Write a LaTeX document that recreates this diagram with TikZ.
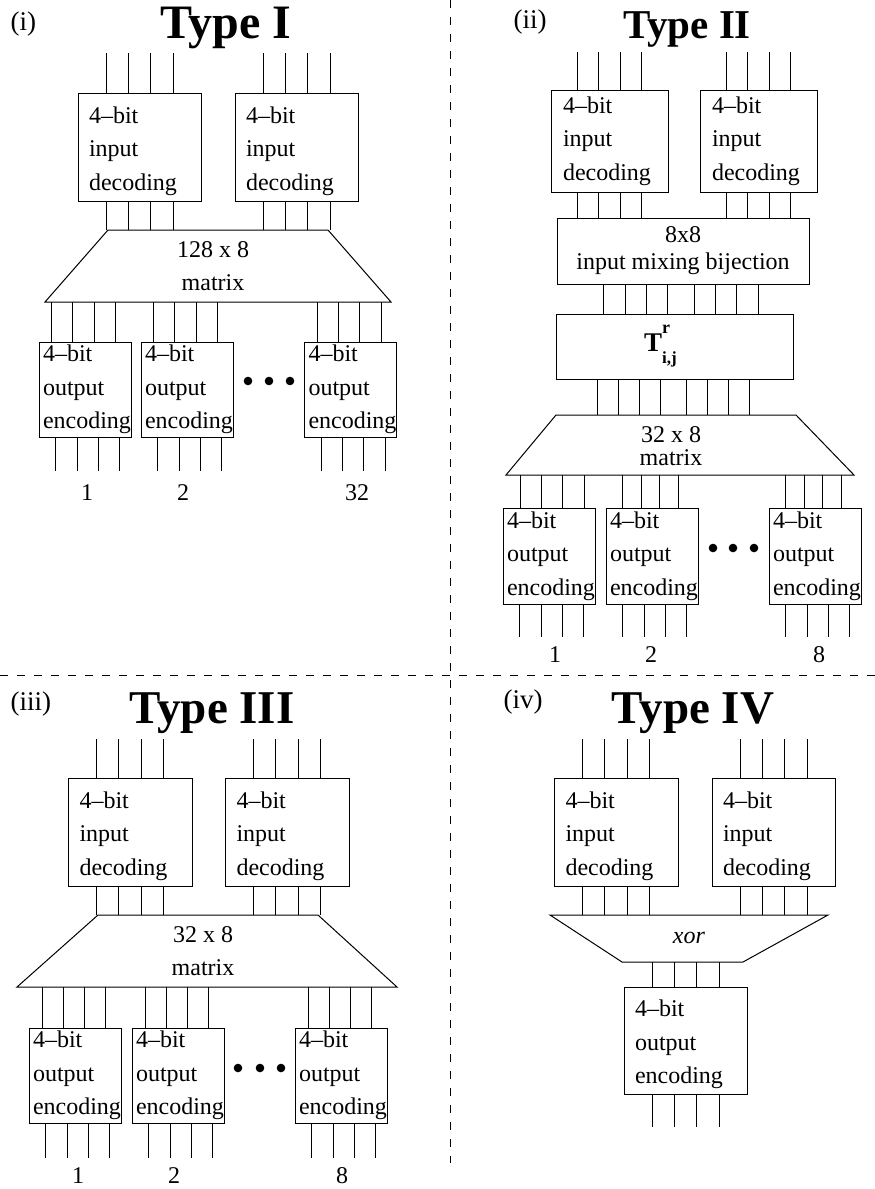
\documentclass[tikz,border=0pt]{standalone}
\usepackage{fontspec}
\setmainfont{Liberation Serif}
\usetikzlibrary{positioning}

\tikzset{
  wire/.style={line width=0.9pt},
  decbox/.style={draw, line width=1pt, minimum width=123pt, minimum height=108pt,
    inner xsep=11pt, inner ysep=0pt, text width=101pt, align=left,
    text height=16pt, text depth=64pt},
  decsmall/.style={draw, line width=1pt, minimum width=117pt, minimum height=102pt,
    inner xsep=12pt, inner ysep=0pt, text width=93pt, align=left},
  encbox/.style={draw, line width=1pt, minimum width=92pt, minimum height=95pt,
    inner xsep=4pt, inner ysep=0pt, text width=84pt, align=left},
  trapline/.style={draw, line width=1pt, line join=miter},
  traptext/.style={inner sep=0pt, align=center},
  title/.style={anchor=base, font=\fontsize{#1}{#1}\selectfont\bfseries},
  tag/.style={anchor=base west, font=\fontsize{27}{27}\selectfont},
  divider/.style={line width=0.9pt, dash pattern=on 8pt off 9pt}
}

\begin{document}
\begin{tikzpicture}[x=1pt, y=-1pt, font=\fontsize{24}{33.5}\selectfont]
  \useasboundingbox (0,0) rectangle (875,1189);

  % dividers between the four panels
  \draw[divider] (450,0) -- (450,1163);
  \draw[divider] (0,675) -- (875,675);

  % ---------------- (i) Type I ----------------
  \node[tag] (tagI) at (7,30) {(i)};
  \node[title=48] (typeI) at (226,38) {Type I};

  \coordinate (topI) at (0,53);
  \coordinate (endI) at (0,471);

  \node[decbox] (inIa) at (139.5,147) {4--bit\\input\\decoding};
  \node[decbox] (inIb) at (296.5,147) {4--bit\\input\\decoding};

  % the 128 x 8 matrix
  \coordinate (matI-tl) at (108,230);
  \coordinate (matI-tr) at (328,230);
  \coordinate (matI-br) at (391,302);
  \coordinate (matI-bl) at (45,302);
  \draw[trapline] (matI-tl) -- (matI-tr) -- (matI-br) -- (matI-bl) -- cycle;
  \node[traptext] (matI) at (213,266) {128 x 8\\matrix};

  \node[encbox] (outIa) at (85,389.5) {4--bit\\output\\encoding};
  \node[encbox] (outIb) at (187,389.5) {4--bit\\output\\encoding};
  \node[encbox] (outIc) at (350.5,389.5) {4--bit\\output\\encoding};
  \foreach \x in {248,269,290}
    \fill (\x,381) circle[radius=4.3pt];

  \foreach \b in {inIa,inIb}
    \foreach \d in {-33.5,-11.2,11.2,33.5} {
      \draw[wire] ([xshift=\d pt]\b.north) -- ([xshift=\d pt]\b.north |- topI);
      \draw[wire] ([xshift=\d pt]\b.south) -- ([xshift=\d pt]\b.south |- matI-tl);
    }
  \foreach \b in {outIa,outIb,outIc} {
    \foreach \d in {-33.5,-12.5,9,30.5}
      \draw[wire] ([xshift=\d pt]\b.north) -- ([xshift=\d pt]\b.north |- matI-bl);
    \foreach \d in {-29.5,-8,13,34.5}
      \draw[wire] ([xshift=\d pt]\b.south) -- ([xshift=\d pt]\b.south |- endI);
  }

  \node[anchor=base] (nIa) at (87,500) {1};
  \node[anchor=base] (nIb) at (183,500) {2};
  \node[anchor=base] (nIc) at (357,500) {32};

  % ---------------- (ii) Type II ----------------
  \node[tag] (tagII) at (510,28) {(ii)};
  \node[title=41] (typeII) at (687,38) {Type II};

  \coordinate (topII) at (0,52);
  \coordinate (endII) at (0,637);

  \node[decsmall] (inIIa) at (609.5,141) {4--bit\\input\\decoding};
  \node[decsmall] (inIIb) at (758.5,141) {4--bit\\input\\decoding};
  \node[draw, line width=1pt, minimum width=252pt, minimum height=66pt, inner sep=0pt,
    align=center, font=\fontsize{24}{27}\selectfont]
    (mixII) at (683,251) {8x8\\input mixing bijection};
  \node[draw, line width=1pt, minimum width=237pt, minimum height=65pt, inner sep=0pt]
    (tII) at (674.5,346.5)
    {{\fontsize{27}{27}\selectfont\bfseries T\rlap{\raisebox{18pt}{\fontsize{18}{18}\selectfont r}}%
      \raisebox{-12pt}{\fontsize{17}{17}\selectfont i,j}}\hspace{28pt}\mbox{}};

  % the 32 x 8 matrix
  \coordinate (matII-tl) at (556,415);
  \coordinate (matII-tr) at (796,415);
  \coordinate (matII-br) at (854,475);
  \coordinate (matII-bl) at (506,475);
  \draw[trapline] (matII-tl) -- (matII-tr) -- (matII-br) -- (matII-bl) -- cycle;
  \node[traptext, font=\fontsize{24}{23}\selectfont] (matII) at (671,446.5) {32 x 8\\matrix};

  \node[encbox, minimum height=96pt] (outIIa) at (549,556) {4--bit\\output\\encoding};
  \node[encbox, minimum height=96pt] (outIIb) at (652,556) {4--bit\\output\\encoding};
  \node[encbox, minimum height=96pt] (outIIc) at (815,556) {4--bit\\output\\encoding};
  \foreach \x in {713,733,754}
    \fill (\x,548) circle[radius=4.3pt];

  \foreach \b in {inIIa,inIIb}
    \foreach \d in {-32,-10.7,10.7,32} {
      \draw[wire] ([xshift=\d pt]\b.north) -- ([xshift=\d pt]\b.north |- topII);
      \draw[wire] ([xshift=\d pt]\b.south) -- ([xshift=\d pt]\b.south |- mixII.north);
    }
  \foreach \d in {-80,-58,-37,-16,11,32,53,75}
    \draw[wire] ([xshift=\d pt]mixII.south) -- ([xshift=\d pt]mixII.south |- tII.north);
  \foreach \d in {-77.5,-56.5,-35.5,-14.5,11.5,32.5,53.5,74.5}
    \draw[wire] ([xshift=\d pt]tII.south) -- ([xshift=\d pt]tII.south |- matII-tl);
  \foreach \d in {-29,-8,13,35}
    \draw[wire] ([xshift=\d pt]outIIa.north) -- ([xshift=\d pt]outIIa.north |- matII-bl);
  \foreach \b in {outIIb,outIIc}
    \foreach \d in {-30,-11,7,26}
      \draw[wire] ([xshift=\d pt]\b.north) -- ([xshift=\d pt]\b.north |- matII-bl);
  \foreach \b in {outIIa,outIIb,outIIc}
    \foreach \d in {-30,-8,13,34}
      \draw[wire] ([xshift=\d pt]\b.south) -- ([xshift=\d pt]\b.south |- endII);

  \node[anchor=base] (nIIa) at (555,662) {1};
  \node[anchor=base] (nIIb) at (651,662) {2};
  \node[anchor=base] (nIIc) at (819,662) {8};

  % ---------------- (iii) Type III ----------------
  \node[tag] (tagIII) at (7,710) {(iii)};
  \node[title=47] (typeIII) at (212,723) {Type III};

  \coordinate (topIII) at (0,739);
  \coordinate (endIII) at (0,1158);

  \node[decbox, minimum width=124pt] (inIIIa) at (130,832) {4--bit\\input\\decoding};
  \node[decbox, minimum width=124pt] (inIIIb) at (287,832) {4--bit\\input\\decoding};

  % the 32 x 8 matrix
  \coordinate (matIII-tl) at (98,915);
  \coordinate (matIII-tr) at (318,915);
  \coordinate (matIII-br) at (397,987);
  \coordinate (matIII-bl) at (17,987);
  \draw[trapline] (matIII-tl) -- (matIII-tr) -- (matIII-br) -- (matIII-bl) -- cycle;
  \node[traptext] (matIII) at (203,951) {32 x 8\\matrix};

  \node[encbox] (outIIIa) at (75,1075.5) {4--bit\\output\\encoding};
  \node[encbox] (outIIIb) at (178,1075.5) {4--bit\\output\\encoding};
  \node[encbox] (outIIIc) at (341,1075.5) {4--bit\\output\\encoding};
  \foreach \x in {238,260,281}
    \fill (\x,1068) circle[radius=4.3pt];

  \foreach \b in {inIIIa,inIIIb}
    \foreach \d in {-33.5,-11.2,11.2,33.5} {
      \draw[wire] ([xshift=\d pt]\b.north) -- ([xshift=\d pt]\b.north |- topIII);
      \draw[wire] ([xshift=\d pt]\b.south) -- ([xshift=\d pt]\b.south |- matIII-tl);
    }
  \foreach \b in {outIIIa,outIIIb,outIIIc} {
    \foreach \d in {-33,-12,9,30.5}
      \draw[wire] ([xshift=\d pt]\b.north) -- ([xshift=\d pt]\b.north |- matIII-bl);
    \foreach \d in {-29.5,-8,13,34.5}
      \draw[wire] ([xshift=\d pt]\b.south) -- ([xshift=\d pt]\b.south |- endIII);
  }

  \node[anchor=base] (nIIIa) at (78,1183) {1};
  \node[anchor=base] (nIIIb) at (174,1183) {2};
  \node[anchor=base] (nIIIc) at (342,1183) {8};

  % ---------------- (iv) Type IV ----------------
  \node[tag] (tagIV) at (500,708) {(iv)};
  \node[title=47] (typeIV) at (693,723) {Type IV};

  \coordinate (topIV) at (0,739);
  \coordinate (endIV) at (0,1127);

  \node[decbox, minimum width=124pt] (inIVa) at (616,832) {4--bit\\input\\decoding};
  \node[decbox] (inIVb) at (773.5,832) {4--bit\\input\\decoding};

  % the xor block
  \coordinate (xorIV-tl) at (550,915);
  \coordinate (xorIV-tr) at (828,915);
  \coordinate (xorIV-br) at (743,962);
  \coordinate (xorIV-bl) at (622,962);
  \draw[trapline] (xorIV-tl) -- (xorIV-tr) -- (xorIV-br) -- (xorIV-bl) -- cycle;
  \node[traptext] (xorIV) at (689,938) {\textit{xor}};

  \node[decbox, minimum height=107pt] (outIV) at (685.5,1040.5) {4--bit\\output\\encoding};

  \foreach \b in {inIVa,inIVb}
    \foreach \d in {-33.5,-11.2,11.2,33.5} {
      \draw[wire] ([xshift=\d pt]\b.north) -- ([xshift=\d pt]\b.north |- topIV);
      \draw[wire] ([xshift=\d pt]\b.south) -- ([xshift=\d pt]\b.south |- xorIV-tl);
    }
  \foreach \d in {-33.5,-11.2,11.2,33.5} {
    \draw[wire] ([xshift=\d pt]outIV.north) -- ([xshift=\d pt]outIV.north |- xorIV-bl);
    \draw[wire] ([xshift=\d pt]outIV.south) -- ([xshift=\d pt]outIV.south |- endIV);
  }

\end{tikzpicture}
\end{document}
